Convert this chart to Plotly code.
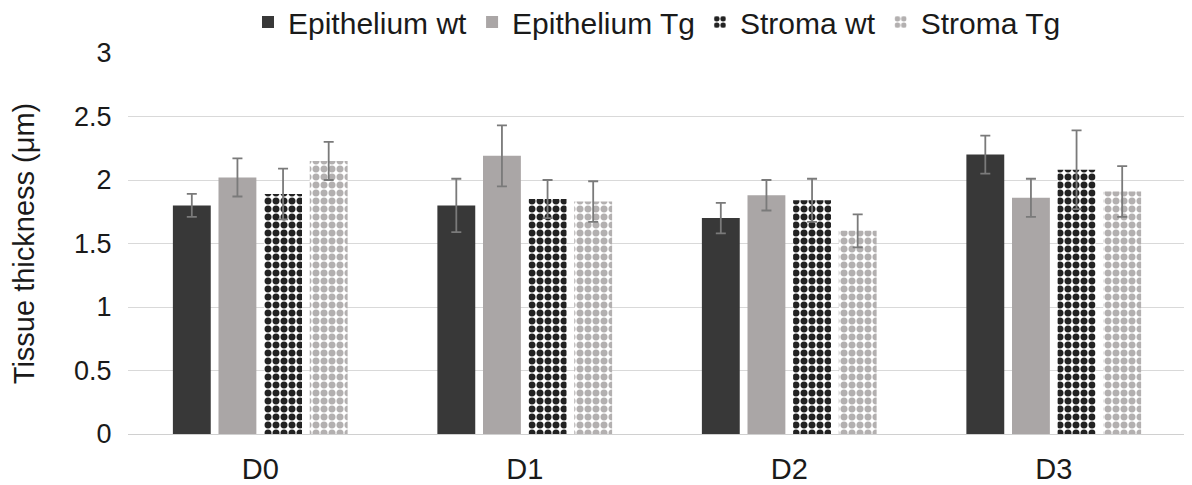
import plotly.graph_objects as go

categories = ["D0", "D1", "D2", "D3"]
series_names = ["Epithelium wt", "Epithelium Tg", "Stroma wt", "Stroma Tg"]
epi_wt = [1.80, 1.80, 1.70, 2.20]
epi_wt_err = [0.09, 0.21, 0.12, 0.15]
epi_tg = [2.02, 2.19, 1.88, 1.86]
epi_tg_err = [0.15, 0.24, 0.12, 0.15]
str_wt = [1.89, 1.85, 1.84, 2.08]
str_wt_err = [0.20, 0.15, 0.17, 0.31]
str_tg = [2.15, 1.83, 1.60, 1.91]
str_tg_err = [0.15, 0.16, 0.13, 0.20]
y_ticks = [0, 0.5, 1, 1.5, 2, 2.5, 3]
y_tick_text = ["0", "0.5", "1", "1.5", "2", "2.5", "3"]

values = [epi_wt, epi_tg, str_wt, str_tg]
errors = [epi_wt_err, epi_tg_err, str_wt_err, str_tg_err]
colors = ["#383838", "#aaa6a6", "#222222", "#b3b0b0"]
patterns = ["", "", ".", "."]

W, H = 1184, 477  # page body adds an 8px offset

fig = go.Figure()
for name, v, e, c, p in zip(series_names, values, errors, colors, patterns):
    marker = dict(color=c if not p else "white", line=dict(width=0))
    if p:
        marker["pattern"] = dict(shape=p, fgcolor=c, bgcolor="white", fgopacity=1,
                                 size=8, solidity=0.6, fillmode="overlay")
    fig.add_trace(go.Bar(
        name=name, x=categories, y=v, marker=marker,
        error_y=dict(type="data", array=e, visible=True, color="#7a7a7a", thickness=1.8, width=5),
    ))

fig.update_layout(
    width=W, height=H,
    barmode="group", bargap=0.31, bargroupgap=0.17,
    plot_bgcolor="white", paper_bgcolor="white",
    font=dict(family="Liberation Sans, Arial, sans-serif", size=28, color="#1a1a1a"),
    margin=dict(l=120, r=6, t=45, b=51, autoexpand=False),
    legend=dict(orientation="h", x=0.5, xanchor="center", xref="paper",
                y=1 - 14 / H, yanchor="middle", yref="container",
                font=dict(size=30), itemwidth=30, traceorder="normal", tracegroupgap=0),
    yaxis=dict(range=[0, 3], tickvals=y_ticks, ticktext=y_tick_text, tickfont=dict(size=27),
               showgrid=True, gridcolor="#d9d9d9", gridwidth=1.2, zeroline=False,
               title=dict(text="Tissue thickness (μm)", font=dict(size=29), standoff=38),
               ticks="outside", ticklen=10, tickcolor="rgba(0,0,0,0)"),
    xaxis=dict(showline=True, linecolor="#d0d0d0", linewidth=1.2, tickfont=dict(size=29),
               ticks="outside", ticklen=9, tickcolor="rgba(0,0,0,0)"),
)
fig.write_html("out.html")
